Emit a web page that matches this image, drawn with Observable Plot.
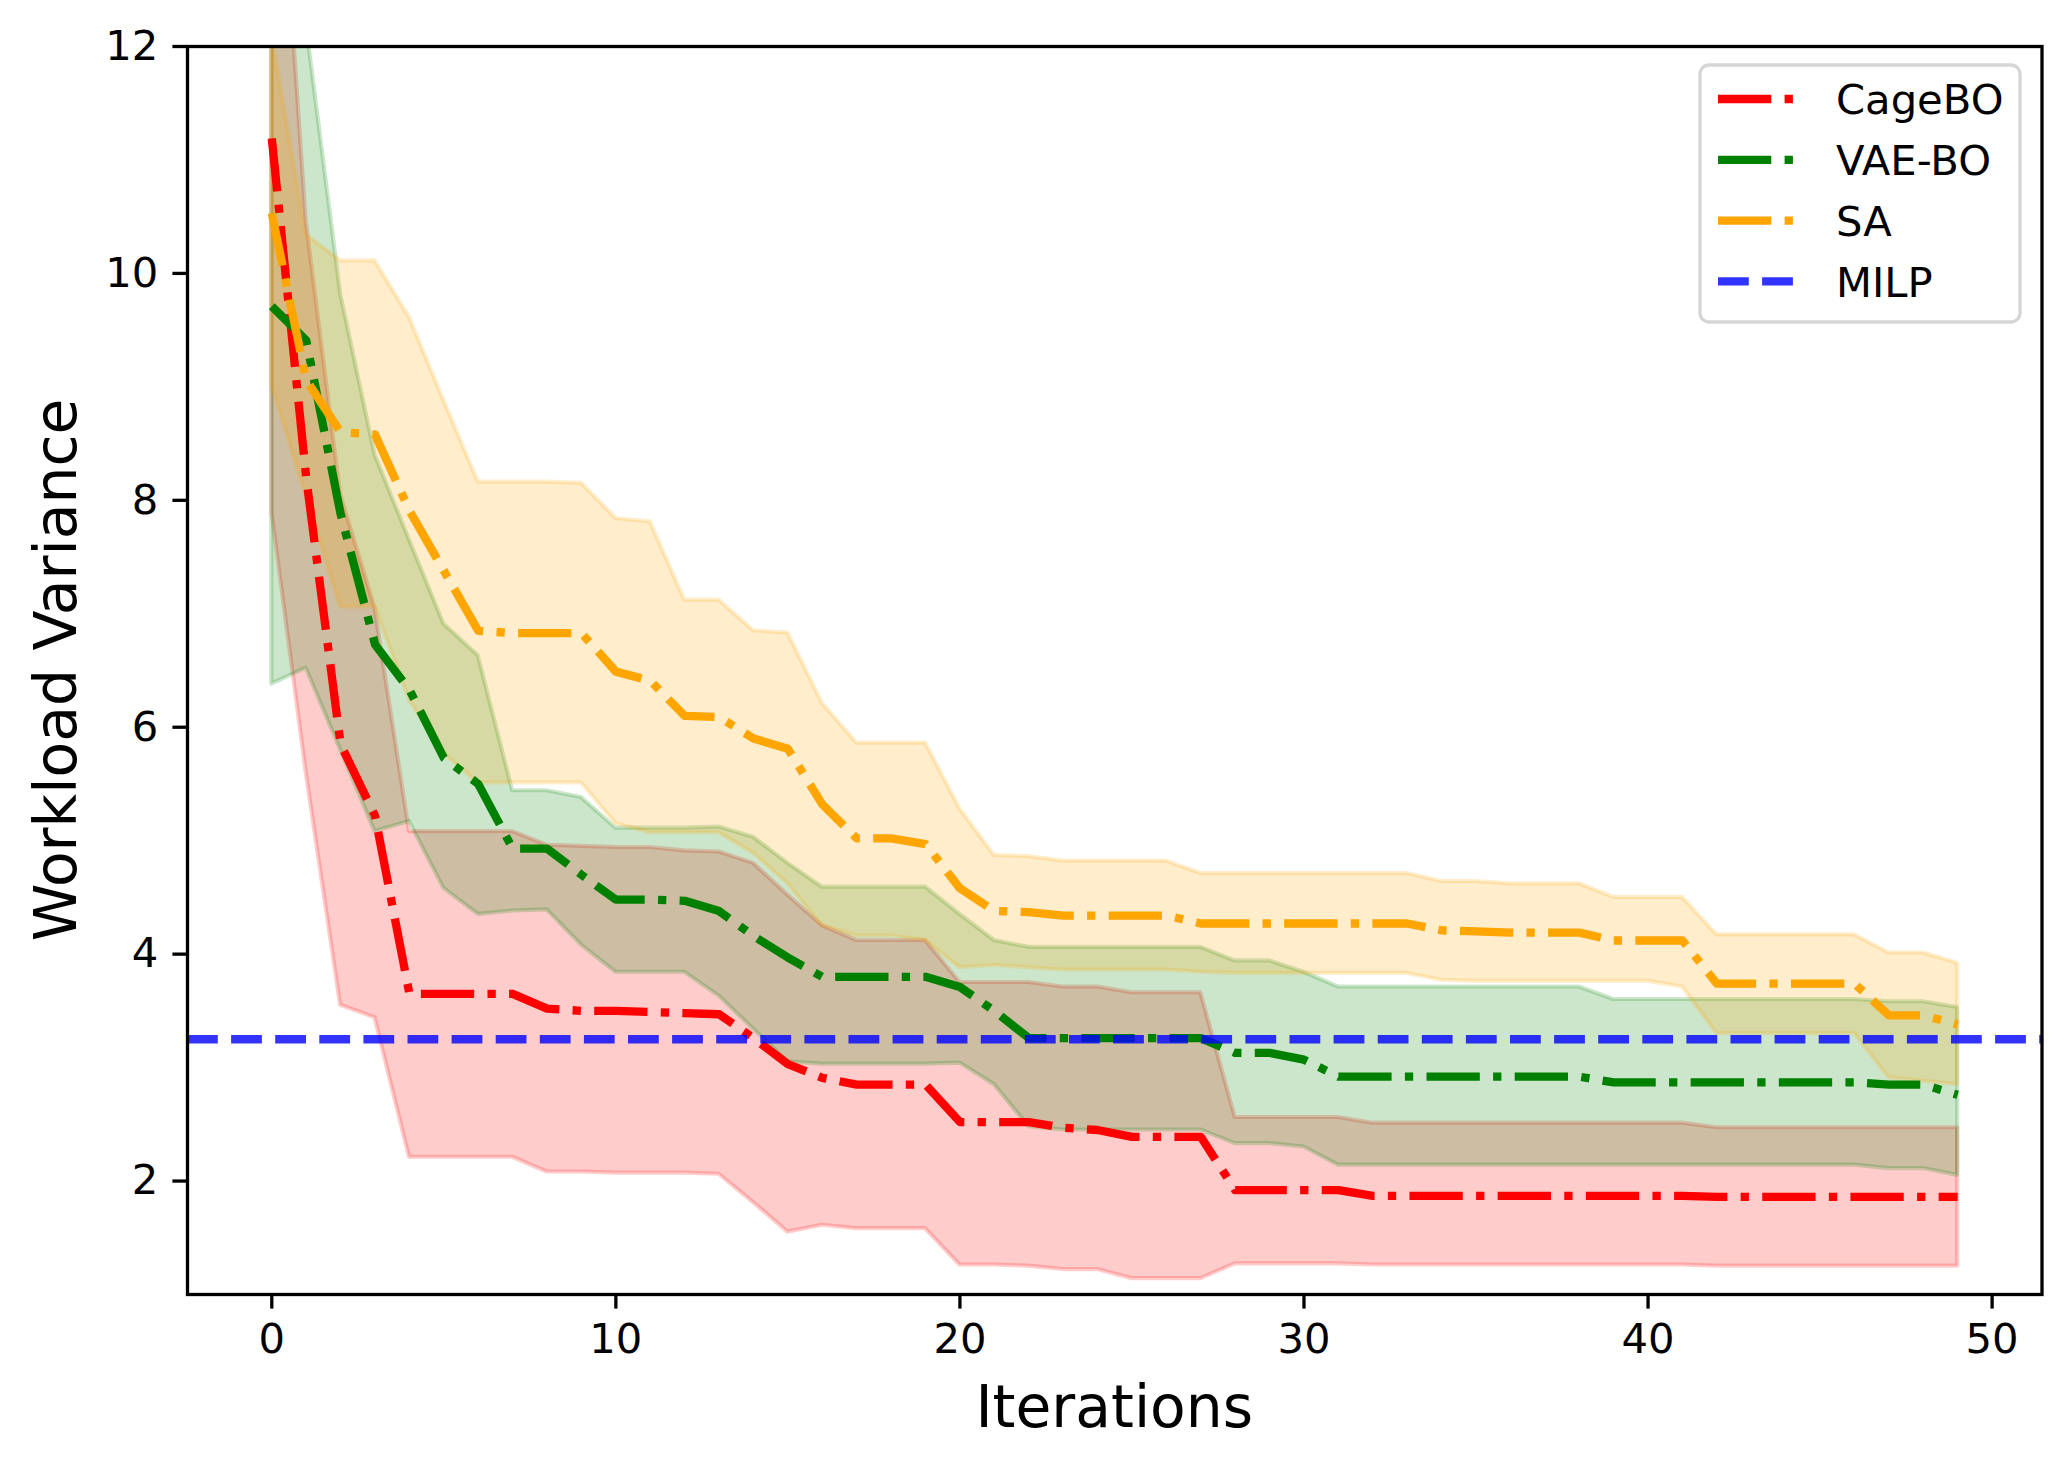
<!DOCTYPE html>
<html>
<head>
<meta charset="utf-8">
<script src="https://cdn.jsdelivr.net/npm/d3@7"></script>
<script src="https://cdn.jsdelivr.net/npm/@observablehq/plot@0.6"></script>
<style>
  html, body { margin: 0; padding: 0; background: white; overflow: hidden; }
  #chart svg { display: block; }
</style>
</head>
<body>
<div id="chart"></div>
<script>
// ---- data ----
const iterations = [0,1,2,3,4,5,6,7,8,9,10,11,12,13,14,15,16,17,18,19,20,21,22,23,24,25,26,27,28,29,30,31,32,33,34,35,36,37,38,39,40,41,42,43,44,45,46,47,48,49];

const cageMean  = [11.19,8.2,5.85,5.22,3.65,3.65,3.65,3.65,3.52,3.50,3.50,3.49,3.48,3.47,3.26,3.03,2.91,2.85,2.85,2.85,2.52,2.52,2.52,2.47,2.45,2.39,2.39,2.39,1.92,1.92,1.92,1.92,1.87,1.87,1.87,1.87,1.87,1.87,1.87,1.87,1.87,1.87,1.86,1.86,1.86,1.86,1.86,1.86,1.86,1.86];
const cageUpper = [14.9,10.46,8.05,7.05,5.08,5.08,5.08,5.08,4.96,4.95,4.94,4.94,4.91,4.90,4.80,4.52,4.25,4.12,4.12,4.12,3.75,3.75,3.75,3.71,3.71,3.66,3.66,3.66,2.56,2.56,2.56,2.56,2.51,2.51,2.51,2.51,2.51,2.51,2.51,2.51,2.51,2.51,2.47,2.47,2.47,2.47,2.47,2.47,2.47,2.47];
const cageLower = [7.9,5.6,3.55,3.44,2.21,2.21,2.21,2.21,2.08,2.08,2.07,2.07,2.07,2.06,1.81,1.55,1.61,1.58,1.58,1.58,1.26,1.26,1.25,1.22,1.22,1.14,1.14,1.14,1.27,1.27,1.27,1.27,1.26,1.26,1.26,1.26,1.26,1.26,1.26,1.26,1.26,1.26,1.25,1.25,1.25,1.25,1.25,1.25,1.25,1.25];

const vaeMean  = [9.71,9.41,7.88,6.73,6.33,5.73,5.50,4.93,4.93,4.70,4.48,4.48,4.47,4.38,4.16,3.97,3.80,3.80,3.80,3.80,3.71,3.50,3.26,3.26,3.26,3.26,3.26,3.26,3.13,3.13,3.07,2.92,2.92,2.92,2.92,2.92,2.92,2.92,2.92,2.87,2.87,2.87,2.87,2.87,2.87,2.87,2.87,2.85,2.85,2.76];
const vaeUpper = [15.0,12.2,9.82,8.4,7.65,6.91,6.63,5.44,5.44,5.38,5.11,5.11,5.11,5.12,5.03,4.80,4.59,4.59,4.59,4.59,4.35,4.12,4.06,4.06,4.06,4.06,4.06,4.06,3.94,3.94,3.84,3.71,3.71,3.71,3.71,3.71,3.71,3.71,3.71,3.60,3.60,3.60,3.60,3.60,3.60,3.60,3.60,3.58,3.58,3.53];
const vaeLower = [6.38,6.52,5.8,5.08,5.17,4.58,4.35,4.38,4.39,4.08,3.84,3.84,3.84,3.63,3.34,3.05,3.03,3.03,3.03,3.03,3.04,2.85,2.48,2.45,2.45,2.45,2.45,2.45,2.33,2.33,2.30,2.14,2.14,2.14,2.14,2.14,2.14,2.14,2.14,2.14,2.14,2.14,2.14,2.14,2.14,2.14,2.14,2.11,2.11,2.05];

const saMean  = [10.53,9.06,8.6,8.58,7.91,7.38,6.85,6.83,6.83,6.83,6.49,6.41,6.10,6.09,5.90,5.81,5.32,5.02,5.02,4.97,4.58,4.38,4.37,4.34,4.34,4.34,4.34,4.27,4.27,4.27,4.27,4.27,4.27,4.27,4.21,4.20,4.19,4.19,4.19,4.12,4.12,4.12,3.74,3.74,3.74,3.74,3.74,3.46,3.46,3.38];
const saUpper = [12.1,10.34,10.11,10.11,9.61,8.88,8.16,8.16,8.16,8.15,7.84,7.81,7.12,7.12,6.85,6.83,6.21,5.86,5.86,5.86,5.28,4.87,4.86,4.82,4.82,4.82,4.82,4.71,4.71,4.71,4.71,4.71,4.71,4.71,4.64,4.64,4.62,4.62,4.62,4.50,4.50,4.50,4.17,4.17,4.17,4.17,4.17,4.01,4.01,3.92];
const saLower = [9.02,8.04,7.06,7.06,6.24,5.77,5.51,5.51,5.51,5.51,5.15,5.07,5.07,5.07,4.89,4.62,4.25,4.16,4.16,4.12,3.88,3.90,3.88,3.86,3.86,3.86,3.86,3.84,3.83,3.83,3.83,3.83,3.83,3.83,3.77,3.76,3.76,3.76,3.76,3.76,3.76,3.71,3.30,3.30,3.30,3.30,3.30,2.91,2.88,2.85];

const milpValue = 3.25;

const methods = ["CageBO", "VAE-BO", "SA"];
const methodColors = ["#ff0000", "#008000", "#ffa500"];
const milpColor = "#0000ff";
const xTicks = [0, 10, 20, 30, 40, 50];
const yTicks = [2, 4, 6, 8, 10, 12];
const xLabel = "Iterations";
const yLabel = "Workload Variance";

// ---- build tidy table ----
const seriesData = [
  {name: methods[0], mean: cageMean, lo: cageLower, hi: cageUpper},
  {name: methods[1], mean: vaeMean,  lo: vaeLower,  hi: vaeUpper},
  {name: methods[2], mean: saMean,   lo: saLower,   hi: saUpper}
];
const rows = seriesData.flatMap(s => iterations.map((it, i) => ({
  method: s.name, iter: it, mean: s.mean[i], lo: s.lo[i], hi: s.hi[i]
})));

// ---- sizing (pixels, DPI 300 equivalents) ----
const W = 2069, H = 1467;
const mL = 187, mR = 27.5, mT = 46, mB = 173;
const lw = 8.33;           // 2pt line
const dashDot = "53.3,13.3,8.3,13.3";
const dashed = "30.8,13.3";
const tickFont = 41.7;
const labelFont = 58.3;

const color = {domain: methods, range: methodColors};

const svg = Plot.plot({
  width: W, height: H,
  marginLeft: mL, marginRight: mR, marginTop: mT, marginBottom: mB,
  style: {fontFamily: "DejaVu Sans", fontSize: tickFont + "px", background: "white", color: "black", overflow: "visible"},
  x: {domain: [-2.45, 51.45]},
  y: {domain: [1, 12]},
  color: color,
  marks: [
    Plot.areaY(rows, {x: "iter", y1: "lo", y2: "hi", z: "method", fill: "method", fillOpacity: 0.2,
      stroke: "method", strokeOpacity: 0.2, strokeWidth: 4.17, clip: true, curve: "linear"}),
    Plot.line(rows, {x: "iter", y: "mean", z: "method", stroke: "method", strokeWidth: lw,
      strokeDasharray: dashDot, strokeLinecap: "butt", strokeLinejoin: "round", clip: true}),
    Plot.ruleY([milpValue], {stroke: milpColor, strokeOpacity: 0.8, strokeWidth: lw, strokeDasharray: dashed, strokeLinecap: "butt"}),
    Plot.axisX({ticks: xTicks, tickSize: 14.6, tickPadding: 14.6, strokeWidth: 3.3, label: null, fontSize: tickFont, tickFormat: d => String(d)}),
    Plot.axisY({ticks: yTicks, tickSize: 14.6, tickPadding: 14.6, strokeWidth: 3.3, label: null, fontSize: tickFont, tickFormat: d => String(d)}),
    Plot.frame({stroke: "black", strokeWidth: 3.3})
  ]
});

// ---- axis titles and legend ----
const s = d3.select(svg);
s.append("text")
  .attr("x", (mL + (W - mR)) / 2).attr("y", 1427)
  .attr("text-anchor", "middle")
  .attr("font-family", "DejaVu Sans").attr("font-size", labelFont)
  .attr("fill", "black")
  .text(xLabel);
s.append("text")
  .attr("transform", `translate(76,${(mT + (H - mB)) / 2}) rotate(-90)`)
  .attr("text-anchor", "middle")
  .attr("font-family", "DejaVu Sans").attr("font-size", labelFont)
  .attr("fill", "black")
  .text(yLabel);

const legendItems = [
  {label: methods[0], color: methodColors[0], dash: dashDot, op: 1},
  {label: methods[1], color: methodColors[1], dash: dashDot, op: 1},
  {label: methods[2], color: methodColors[2], dash: dashDot, op: 1},
  {label: "MILP", color: milpColor, dash: dashed, op: 0.8}
];
const lg = s.append("g").attr("text-anchor", "start");
lg.append("rect")
  .attr("x", 1700).attr("y", 65).attr("width", 320).attr("height", 257)
  .attr("rx", 9).attr("ry", 9)
  .attr("fill", "white").attr("fill-opacity", 0.8)
  .attr("stroke", "#cccccc").attr("stroke-opacity", 0.8).attr("stroke-width", 3.3);
legendItems.forEach((d, i) => {
  const y = 99 + i * 60.8;
  lg.append("line")
    .attr("x1", 1718).attr("x2", 1801).attr("y1", y).attr("y2", y)
    .attr("stroke", d.color).attr("stroke-opacity", d.op)
    .attr("stroke-width", lw).attr("stroke-dasharray", d.dash).attr("stroke-linecap", "butt");
  lg.append("text")
    .attr("x", 1836).attr("y", y + 15.2)
    .attr("text-anchor", "start")
    .attr("font-family", "DejaVu Sans").attr("font-size", tickFont)
    .attr("fill", "black")
    .text(d.label);
});

document.getElementById("chart").appendChild(svg);
</script>
</body>
</html>
